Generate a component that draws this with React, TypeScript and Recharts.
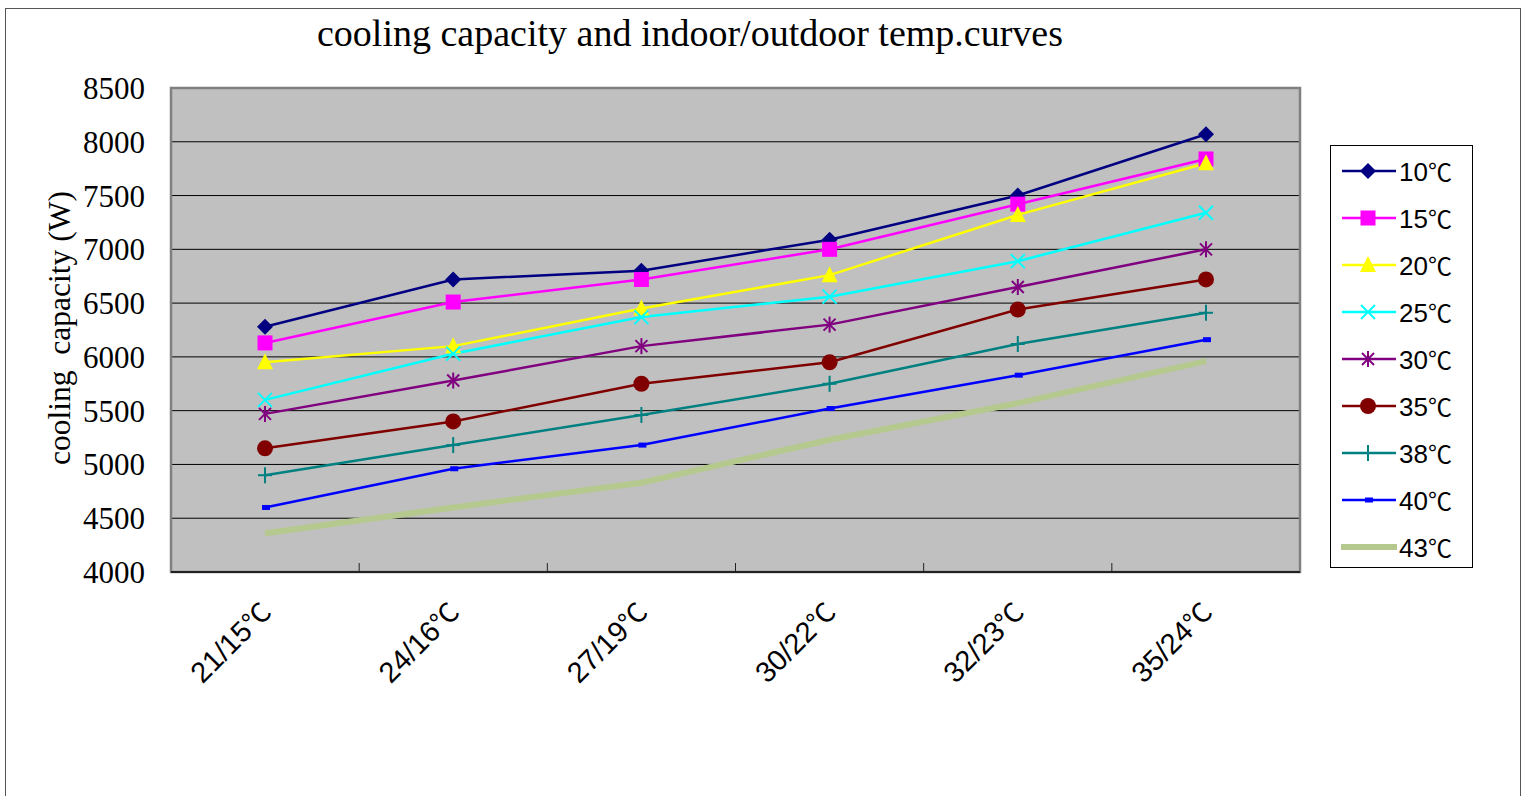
import React from "react";
import {
  LineChart,
  Line,
  XAxis,
  YAxis,
  CartesianGrid,
  ReferenceArea,
  Legend,
} from "recharts";

// categories (indoor/outdoor temps) and one series per outdoor temperature
const categories = ["21/15℃", "24/16℃", "27/19℃", "30/22℃", "32/23℃", "35/24℃"];
const t10 = [6280, 6720, 6800, 7090, 7500, 8070];
const t15 = [6130, 6510, 6720, 7000, 7420, 7840];
const t20 = [5950, 6100, 6450, 6760, 7320, 7800];
const t25 = [5600, 6030, 6370, 6560, 6890, 7340];
const t30 = [5470, 5780, 6100, 6300, 6650, 7000];
const t35 = [5150, 5400, 5750, 5950, 6440, 6720];
const t38 = [4900, 5180, 5460, 5750, 6120, 6410];
const t40 = [4600, 4960, 5180, 5520, 5830, 6160];
const t43 = [4360, 4600, 4830, 5230, 5570, 5960];
const yTicks = [4000, 4500, 5000, 5500, 6000, 6500, 7000, 7500, 8000, 8500];
const boundaryTicks = [1, 2, 3, 4, 5];

type Shape = "diamond" | "square" | "triangle" | "x" | "star" | "circle" | "plus" | "dash" | "none";

const series: { key: string; name: string; values: number[]; color: string; shape: Shape; width: number }[] = [
  { key: "t10", name: "10℃", values: t10, color: "#000080", shape: "diamond", width: 2.5 },
  { key: "t15", name: "15℃", values: t15, color: "#FF00FF", shape: "square", width: 2.5 },
  { key: "t20", name: "20℃", values: t20, color: "#FFFF00", shape: "triangle", width: 2.5 },
  { key: "t25", name: "25℃", values: t25, color: "#00FFFF", shape: "x", width: 2.5 },
  { key: "t30", name: "30℃", values: t30, color: "#800080", shape: "star", width: 2.5 },
  { key: "t35", name: "35℃", values: t35, color: "#800000", shape: "circle", width: 2.5 },
  { key: "t38", name: "38℃", values: t38, color: "#008080", shape: "plus", width: 2.5 },
  { key: "t40", name: "40℃", values: t40, color: "#0000FF", shape: "dash", width: 2.5 },
  { key: "t43", name: "43℃", values: t43, color: "#B5C98E", shape: "none", width: 6 },
];

const data = categories.map((c, i) => {
  const row: Record<string, string | number> = { cat: c };
  series.forEach((s) => (row[s.key] = s.values[i]));
  return row;
});

const SERIF = "'Liberation Serif', 'Times New Roman', serif";
const SANS = "'Liberation Sans', Arial, 'Noto Sans CJK SC', sans-serif";
const CJK = "'Noto Sans CJK SC', sans-serif";

// "21/15℃" -> ["21/15", "℃"]
const splitDeg = (s: string) => (s.endsWith("℃") ? [s.slice(0, -1), "℃"] : [s, ""]);

function Marker({ shape, cx, cy, color }: { shape: Shape; cx: number; cy: number; color: string }) {
  switch (shape) {
    case "diamond":
      return <polygon points={`${cx},${cy - 8} ${cx + 8},${cy} ${cx},${cy + 8} ${cx - 8},${cy}`} fill={color} />;
    case "square":
      return <rect x={cx - 7.5} y={cy - 7.5} width={15} height={15} fill={color} />;
    case "triangle":
      return <polygon points={`${cx},${cy - 9} ${cx + 8},${cy + 7} ${cx - 8},${cy + 7}`} fill={color} />;
    case "x":
      return (
        <g stroke={color} strokeWidth={2}>
          <line x1={cx - 7} y1={cy - 7} x2={cx + 7} y2={cy + 7} />
          <line x1={cx - 7} y1={cy + 7} x2={cx + 7} y2={cy - 7} />
        </g>
      );
    case "star":
      return (
        <g stroke={color} strokeWidth={2}>
          <line x1={cx - 6} y1={cy - 6} x2={cx + 6} y2={cy + 6} />
          <line x1={cx - 6} y1={cy + 6} x2={cx + 6} y2={cy - 6} />
          <line x1={cx} y1={cy - 8} x2={cx} y2={cy + 8} />
        </g>
      );
    case "circle":
      return <circle cx={cx} cy={cy} r={8} fill={color} />;
    case "plus":
      return (
        <g stroke={color} strokeWidth={2}>
          <line x1={cx - 7} y1={cy} x2={cx + 7} y2={cy} />
          <line x1={cx} y1={cy - 8} x2={cx} y2={cy + 8} />
        </g>
      );
    case "dash":
      return <rect x={cx - 3} y={cy - 2.5} width={8} height={5} fill={color} />;
    default:
      return null;
  }
}

const XTick = (props: any) => {
  const { x, y, payload } = props;
  const [num, deg] = splitDeg(String(payload.value));
  return (
    <g transform={`translate(${x},${y})`}>
      <text
        transform="translate(8,34) rotate(-45)"
        textAnchor="end"
        fontSize={29}
        fontFamily={SANS}
        fill="#000"
      >
        {num}
        <tspan fontFamily={CJK} fontSize={27}>{deg}</tspan>
      </text>
    </g>
  );
};

// boundary tick: a short mark rising from the category axis into the plot
const BoundTick = (props: any) => {
  const { x, payload } = props;
  if (!payload) return <g />;
  return <line x1={x} y1={572} x2={x} y2={563} stroke="#222" strokeWidth={1} />;
};

const LegendBox = () => (
  <div
    style={{
      width: 141,
      height: 421,
      border: "1px solid #000",
      background: "#fff",
      boxSizing: "content-box",
    }}
  >
    {series.map((s, i) => {
      const [num, deg] = splitDeg(s.name);
      return (
        <div
          key={s.key}
          style={{
            position: "absolute",
            left: 11,
            top: 13 + i * 47,
            height: 26,
            display: "flex",
            alignItems: "center",
          }}
        >
          <svg width={56} height={26}>
            <line x1={1} y1={13} x2={55} y2={13} stroke={s.color} strokeWidth={s.width} strokeLinecap={s.shape === "none" ? "round" : "butt"} />
            <Marker shape={s.shape} cx={27} cy={13} color={s.color} />
          </svg>
          <span style={{ fontFamily: SANS, fontSize: 26, color: "#000", marginLeft: 2, lineHeight: "26px", whiteSpace: "nowrap" }}>
            {num}
            <span style={{ fontFamily: CJK, fontSize: 24 }}>{deg}</span>
          </span>
        </div>
      );
    })}
  </div>
);

export default function App() {
  return (
    <div style={{ position: "absolute", left: 0, top: 0, width: 1523, height: 796, background: "#fff", overflow: "hidden" }}>
      {/* outer chart frame */}
      <div
        style={{
          position: "absolute",
          left: 5,
          top: 8,
          width: 1514,
          height: 800,
          border: "1px solid #555",
        }}
      />
      <div
        style={{
          position: "absolute",
          left: 0,
          top: 11,
          width: 1380,
          textAlign: "center",
          fontFamily: SERIF,
          fontSize: 38,
          color: "#000",
          whiteSpace: "nowrap",
        }}
      >
        cooling capacity and indoor/outdoor temp.curves
      </div>
      <div
        style={{
          position: "absolute",
          left: 60,
          top: 328,
          transform: "translate(-50%, -50%) rotate(-90deg)",
          fontFamily: SERIF,
          fontSize: 31.5,
          color: "#000",
          whiteSpace: "pre",
        }}
      >
        {"cooling  capacity (W)"}
      </div>
      <div style={{ position: "absolute", left: 0, top: 0 }}>
        <LineChart width={1523} height={796} data={data} margin={{ top: 88, right: 223, bottom: 104, left: 71 }}>
          <CartesianGrid vertical={false} stroke="#000" strokeWidth={1} fill="#C0C0C0" fillOpacity={1} />
          <ReferenceArea xAxisId="bound" x1={0} x2={6} y1={4000} y2={8500} fill="none" fillOpacity={0} stroke="#808080" strokeWidth={2.5} ifOverflow="visible" />
          <XAxis
            dataKey="cat"
            height={120}
            tickLine={false}
            axisLine={{ stroke: "#222", strokeWidth: 2 }}
            tick={<XTick />}
            interval={0}
            padding={{ left: 94, right: 94 }}
          />
          <XAxis
            xAxisId="bound"
            type="number"
            dataKey={(d: any) => categories.indexOf(d.cat)}
            domain={[0, 6]}
            allowDataOverflow
            ticks={boundaryTicks}
            interval={0}
            tick={<BoundTick />}
            axisLine={false}
            tickLine={false}
            mirror
            height={1}
          />
          <YAxis
            width={100}
            domain={[4000, 8500]}
            ticks={yTicks}
            interval={0}
            tickLine={false}
            axisLine={false}
            tickSize={0}
            tickMargin={26}
            tick={{ fill: "#000", fontSize: 31, fontFamily: SERIF }}
          />
          <Legend
            layout="horizontal"
            verticalAlign="middle"
            align="center"
            content={<LegendBox />}
            wrapperStyle={{ position: "absolute", left: 1330, top: 145, width: 143, height: 423 }}
          />
          {series.map((s) => (
            <Line
              key={s.key}
              dataKey={s.key}
              name={s.name}
              stroke={s.color}
              strokeWidth={s.width}
              type="linear"
              isAnimationActive={false}
              activeDot={false}
              dot={(p: any) => <Marker key={`${s.key}-${p.index}`} shape={s.shape} cx={p.cx} cy={p.cy} color={s.color} />}
            />
          ))}
        </LineChart>
      </div>
    </div>
  );
}
